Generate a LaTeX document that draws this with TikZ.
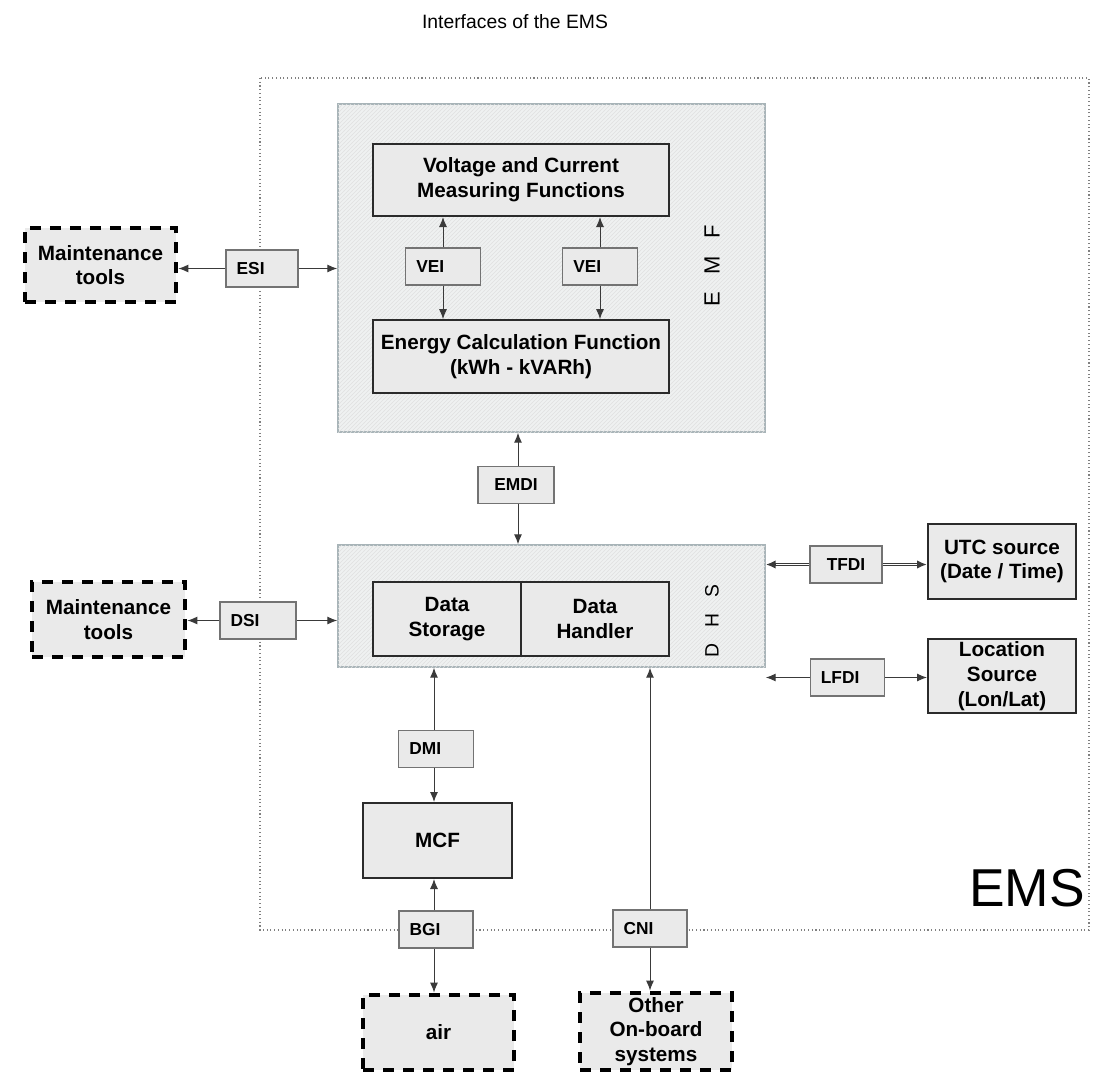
\documentclass[tikz,border=0pt]{standalone}
\usepackage{fontspec}
\setmainfont{Liberation Sans}
\usetikzlibrary{arrows.meta,patterns}
\definecolor{boxfill}{HTML}{EAEAEA}
\definecolor{panelfill}{HTML}{EFF1F1}
\definecolor{panelline}{HTML}{A8B4B8}
\definecolor{ink}{HTML}{2B2B2B}
\definecolor{wirecol}{HTML}{3A3A3A}
\tikzset{
  boxfont/.style={font=\bfseries\fontsize{15.5}{18.5}\selectfont},
  panel/.style={draw=panelline, line width=1.1pt, fill=panelfill,
    postaction={pattern=north east lines, pattern color=black!12}, inner sep=0pt},
  func/.style={draw=ink, line width=1.5pt, fill=boxfill, inner sep=2pt, align=center, boxfont},
  ext/.style={draw=black, line width=3.6pt, dash pattern=on 8pt off 7pt,
    fill=boxfill, align=center, boxfont, inner sep=1pt},
  ifc/.style={draw=black!55, line width=0.8pt, fill=boxfill,
    font=\bfseries\fontsize{13}{15}\selectfont, minimum height=27.75pt,
    inner xsep=8pt, text width=#1, align=left},
  ifc/.default=40pt,
  ifcc/.style={ifc=#1, align=center},
  ifcc/.default=40pt,
  tip/.tip={Latex[length=7.5pt,width=6pt]},
  wire/.style={draw=wirecol, line width=0.75pt, -tip},
  % double line: a wide dark stroke with a white core, ending in a tip
  dwire/.style={draw=wirecol, line width=2.6pt, -{Latex[length=7.5pt,width=6.5pt]},
    postaction={draw=white, line width=1pt, shorten >=7.5pt, -}},
  vlabel/.style={rotate=90}
}
\begin{document}
\begin{tikzpicture}[x=0.75pt, y=-0.75pt]
\useasboundingbox (0,0) rectangle (1113,1075);

% title and system boundary
\node[font=\fontsize{14.5}{17}\selectfont] (title) at (515,22) {Interfaces of the EMS};
\draw[black!50, line width=0.8pt, dotted] (260,78) rectangle (1089,930);
\node[font=\fontsize{40}{44}\selectfont] (emslbl) at (1027,888) {EMS};

% energy measurement function
\node[panel, minimum width=320.25pt, minimum height=246pt] (emf) at (551.5,268) {};
\node[vlabel, font=\fontsize{16.5}{18}\selectfont] (emflbl) at (712,266) {E\hspace{13pt}M\hspace{13pt}F};
\node[func, minimum width=222pt, minimum height=54pt] (vcmf) at (521,180)
  {Voltage and Current\\Measuring Functions};
\node[func, minimum width=222pt, minimum height=54.5pt] (ecf) at (521,356.5)
  {Energy Calculation Function\\(kWh - kVARh)};
\node[ifc] (vei1) at (443,266.5) {VEI};
\node[ifc] (vei2) at (600,266.5) {VEI};

% data handling system
\node[panel, minimum width=320.25pt, minimum height=91.5pt] (dhs) at (551.5,606) {};
\node[vlabel, font=\fontsize{14.5}{16}\selectfont] (dhslbl) at (712,621) {D\hspace{12pt}H\hspace{12pt}S};
\node[func, minimum width=111pt, minimum height=55.5pt] (ds) at (447,619) {Data\\Storage};
\node[func, minimum width=111pt, minimum height=55.5pt] (dh) at (595,619) {Data\\Handler};

% external parties
\node[ext, minimum width=113.25pt, minimum height=55.5pt] (mt1) at (100.5,265) {Maintenance\\tools};
\node[ext, minimum width=114.75pt, minimum height=56.25pt] (mt2) at (108.5,619.5) {Maintenance\\tools};
\node[ext, minimum width=113.25pt, minimum height=56.25pt] (air) at (438.5,1032.5) {air};
\node[ext, minimum width=114pt, minimum height=57.75pt] (other) at (656,1031.5) {Other\\On-board\\systems};
\node[func, minimum width=111pt, minimum height=56.25pt] (utc) at (1002,561.5) {UTC source\\(Date / Time)};
\node[func, minimum width=111pt, minimum height=55.5pt] (loc) at (1002,676) {Location\\Source\\(Lon/Lat)};
\node[func, minimum width=111.75pt, minimum height=56.25pt] (mcf) at (437.5,840.5) {MCF};

% interface boxes
\node[ifc=38pt] (esi) at (262,268.5) {ESI};
\node[ifcc=41pt] (emdi) at (516,485) {EMDI};
\node[ifc=41pt] (dsi) at (258,620.5) {DSI};
\node[ifcc=38pt] (tfdi) at (846,564.5) {TFDI};
\node[ifc] (lfdi) at (847.5,677.5) {LFDI};
\node[ifc] (dmi) at (436,749) {DMI};
\node[ifc=39.5pt] (bgi) at (436,929.5) {BGI};
\node[ifc=39.5pt] (cni) at (650,928.5) {CNI};

% connectors
\draw[wire] (vei1.north) -- (vei1.north |- vcmf.south);
\draw[wire] (vei1.south) -- (vei1.south |- ecf.north);
\draw[wire] (vei2.north) -- (vei2.north |- vcmf.south);
\draw[wire] (vei2.south) -- (vei2.south |- ecf.north);

\draw[wire] (esi.west) -- (esi.west -| mt1.east);
\draw[wire] (esi.east) -- (esi.east -| emf.west);
\draw[wire] (dsi.west) -- (dsi.west -| mt2.east);
\draw[wire] (dsi.east) -- (dsi.east -| dhs.west);

\coordinate (emdix) at (518,485);
\draw[wire] (emdi.north -| emdix) -- (emdix |- emf.south);
\draw[wire] (emdi.south -| emdix) -- (emdix |- dhs.north);

\draw[dwire] (tfdi.west) -- (tfdi.west -| dhs.east);
\draw[dwire] (tfdi.east) -- (tfdi.east -| utc.west);
\draw[wire] (lfdi.west) -- (lfdi.west -| dhs.east);
\draw[wire] (lfdi.east) -- (lfdi.east -| loc.west);

\coordinate (dmix) at (434,749);
\draw[wire] (dmi.north -| dmix) -- (dmix |- dhs.south);
\draw[wire] (dmi.south -| dmix) -- (dmix |- mcf.north);
\draw[wire] (bgi.north -| dmix) -- (dmix |- mcf.south);
\draw[wire] (bgi.south -| dmix) -- (dmix |- air.north);

\draw[wire] (cni.north) -- (cni.north |- dhs.south);
\draw[wire] (cni.south) -- (cni.south |- other.north);
\end{tikzpicture}
\end{document}
